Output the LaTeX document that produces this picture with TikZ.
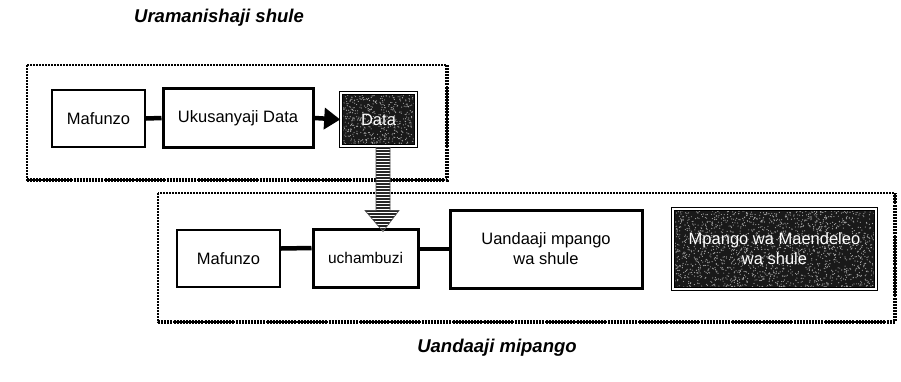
\documentclass[tikz,border=0pt]{standalone}
\usepackage{fontspec}
\setmainfont{Liberation Sans}
\usetikzlibrary{arrows.meta,calc}

\tikzset{
  plainbox/.style={draw=black, line width=2pt, fill=white, align=center,
    font=\fontsize{16.5}{20}\selectfont, inner sep=2pt},
  heavybox/.style={plainbox, line width=3pt},
  darkbox/.style={draw=black, line width=1.6pt, double=white, double distance=1.2pt,
    fill=black!90, align=center},
  darktext/.style={text=white, align=center, font=\fontsize{16.5}{20}\selectfont},
  grain/.style={black!35},
  frameline/.style={line width=2.2pt, dash pattern=on 1.8pt off 1.2pt},
  frameshadow/.style={line width=3.8pt, dash pattern=on 2pt off 1.1pt},
  link/.style={line width=4.5pt},
  heading/.style={font=\fontsize{18.5}{22}\selectfont\bfseries\itshape},
}

\begin{document}
\begin{tikzpicture}[x=1pt, y=-1pt]
\useasboundingbox (0,0) rectangle (901,381);
\pgfmathsetseed{7}

% group frames
\draw[frameline] (27,65) rectangle (447,180);
\draw[frameshadow] (27,180) -- (447,180) -- (447,65);
\draw[frameline] (158,193) rectangle (895,322);
\draw[frameshadow] (158,322) -- (895,322) -- (895,193);

% headings
\node[heading] (t1) at (219,18) {Uramanishaji shule};
\node[heading] (t2) at (497,348) {Uandaaji mipango};

% upper row
\node[plainbox, minimum width=93pt, minimum height=57pt] (m1) at (98.5,118.5) {Mafunzo};
\node[heavybox, minimum width=150pt, minimum height=59pt] (uk) at (238,118) {Ukusanyaji Data};
\node[darkbox, minimum width=75pt, minimum height=53pt] (data) at (378.5,119.5) {};

% lower row
\node[plainbox, minimum width=103pt, minimum height=57pt] (m2) at (228.5,258.5) {Mafunzo};
\node[heavybox, minimum width=105pt, minimum height=58pt,
      font=\fontsize{15.5}{18}\selectfont] (uch) at (365.5,258) {uchambuzi};
\node[heavybox, minimum width=192pt, minimum height=78pt] (uand) at (546,249)
      {Uandaaji mpango\\wa shule};
\node[darkbox, minimum width=203pt, minimum height=80pt] (mp) at (774.5,249) {};

% speckled grain inside the dark boxes
\begin{scope}
  \clip ([shift={(3,-3)}]data.south west) rectangle ([shift={(-3,3)}]data.north east);
  \foreach \i in {1,...,550}
    \fill[grain] ($(data.south west)+({rnd*75},{-rnd*55})$) circle (0.6pt);
\end{scope}
\begin{scope}
  \clip ([shift={(3,-3)}]mp.south west) rectangle ([shift={(-3,3)}]mp.north east);
  \foreach \i in {1,...,2000}
    \fill[grain] ($(mp.south west)+({rnd*205},{-rnd*82})$) circle (0.6pt);
\end{scope}
\node[darktext] (datalbl) at (data.center) {Data};
\node[darktext] (mplbl) at (mp.center) {Mpango wa Maendeleo\\wa shule};

% connectors
\draw[link] (m1.east) -- (uk.west);
\draw[link, -{Triangle[length=16pt 0,width=21pt 0]}] (uk.east) -- (data.west);
\draw[link] ([yshift=10pt]m2.east) -- ([yshift=10pt]uch.west);
\draw[link] ([yshift=9pt]uch.east) -- ([yshift=9pt]uch.east -| uand.west);

% striped transfer arrow from Data down to uchambuzi
\coordinate (a0) at ([xshift=4.5pt]data.south);
\coordinate (a1) at (a0 |- uch.north);
\begin{scope}
  \clip ($(a0)+(-7,0)$) -- ($(a1)+(-7,-17)$) -- ($(a1)+(-18,-17)$) -- ($(a1)+(0,4)$)
     -- ($(a1)+(16,-17)$) -- ($(a1)+(7,-17)$) -- ($(a0)+(7,0)$) -- cycle;
  \fill[white] ($(a0)+(-20,0)$) rectangle ($(a1)+(20,6)$);
  \foreach \k in {0,...,28}
    \draw[line width=1.8pt, black!85] ($(a0)+(-20,1.5+3*\k)$) -- ++(40,0);
\end{scope}
\draw[line width=0.6pt, black!70] ($(a0)+(-7,0)$) -- ($(a1)+(-7,-17)$) -- ($(a1)+(-18,-17)$)
   -- ($(a1)+(0,4)$) -- ($(a1)+(16,-17)$) -- ($(a1)+(7,-17)$) -- ($(a0)+(7,0)$);
\end{tikzpicture}
\end{document}
